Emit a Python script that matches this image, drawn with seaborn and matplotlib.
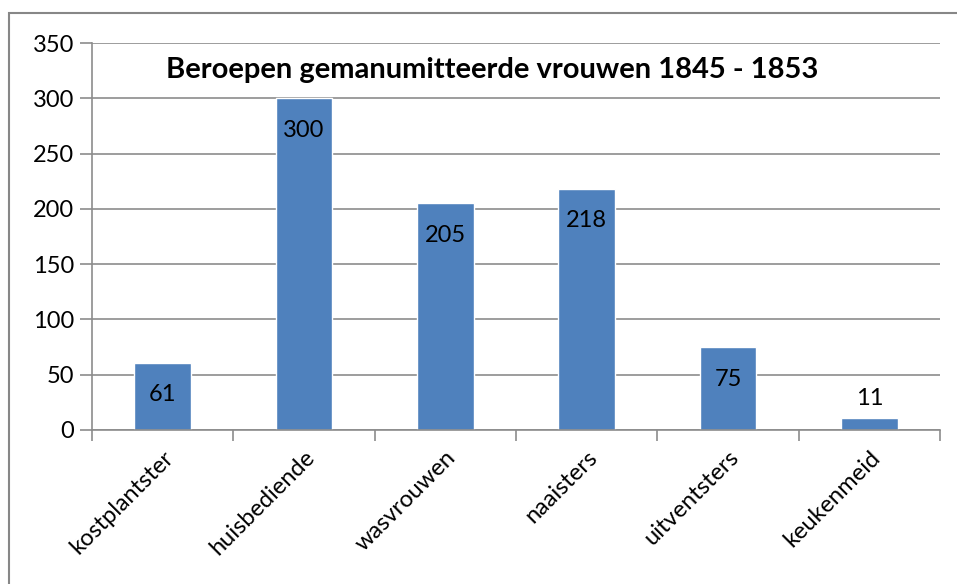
import matplotlib
matplotlib.use("Agg")
import matplotlib.pyplot as plt
import seaborn as sns
import pandas as pd

# ── data ────────────────────────────────────────────────────
beroepen = ["kostplantster", "huisbediende", "wasvrouwen",
            "naaisters", "uitventsters", "keukenmeid"]
aantallen = [61, 300, 205, 218, 75, 11]
titel = "Beroepen gemanumitteerde vrouwen 1845 - 1853"

df = pd.DataFrame({"Beroep": beroepen, "Aantal": aantallen})

sns.set_theme(style="white")
plt.rcParams["font.family"] = ["Lato", "DejaVu Sans"]

W, H = 957, 584
fig = plt.figure(figsize=(W / 100, H / 100), dpi=100)

# outer chart border (runs off the right and bottom edge)
fig.patches.append(plt.Rectangle((9 / W, -0.05), 1.1, 1 - 13 / H + 0.05,
                                 transform=fig.transFigure, fill=False,
                                 edgecolor="#878787", linewidth=1.5))

ax = fig.add_axes([92 / W, (H - 430) / H, 848 / W, 387 / H])
sns.barplot(data=df, x="Beroep", y="Aantal", color="#4F81BD",
            saturation=1, width=0.4, ax=ax)

ax.set_ylim(0, 350)
ax.set_xlim(-0.5, len(beroepen) - 0.5)
ax.set_yticks(range(0, 351, 50))
ax.yaxis.grid(True, color="#8C8C8C", linewidth=1.2)
ax.set_axisbelow(True)
ax.set_xlabel("")
ax.set_ylabel("")

for side in ["top", "right"]:
    ax.spines[side].set_visible(False)
for side in ["left", "bottom"]:
    ax.spines[side].set_color("#8C8C8C")
    ax.spines[side].set_linewidth(1.2)

# ticks on y: outward; x ticks sit between categories
ax.tick_params(axis="y", length=9, width=1.2, color="#8C8C8C",
               labelsize=17, labelcolor="black", pad=4, left=True)
ax.set_xticks([i - 0.5 for i in range(len(beroepen) + 1)], minor=True)
ax.tick_params(axis="x", which="minor", length=8, width=1.2,
               color="#8C8C8C", bottom=True)
ax.tick_params(axis="x", which="major", length=0, labelsize=17,
               labelcolor="black", pad=12)
ax.set_xticks(range(len(beroepen)))
ax.set_xticklabels(beroepen, rotation=45, ha="right",
                   rotation_mode="anchor")

# value labels
for i, v in enumerate(aantallen):
    if v > 30:
        ax.annotate(str(v), (i, v), xytext=(0, -32), textcoords="offset pixels",
                    ha="center", va="center", fontsize=17, color="black")
    else:
        ax.annotate(str(v), (i, v), xytext=(0, 19), textcoords="offset pixels",
                    ha="center", va="center", fontsize=17, color="black")

fig.text(492 / W, 1 - 70 / H, titel, ha="center", va="center",
         fontsize=21, fontweight="bold", color="black")

fig.savefig("out.png", dpi=100)
